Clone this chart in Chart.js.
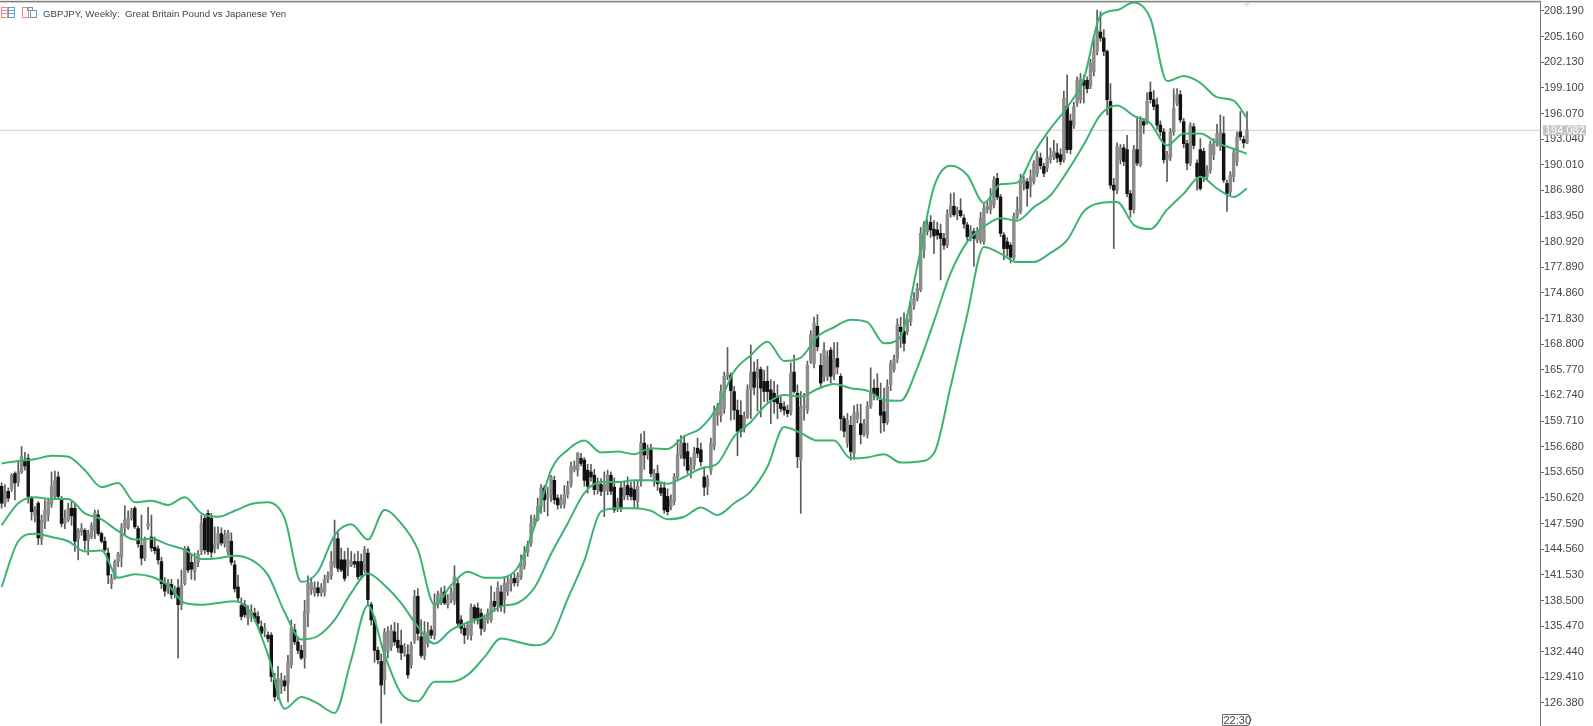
<!DOCTYPE html>
<html>
<head>
<meta charset="utf-8">
<title>GBPJPY Weekly</title>
<script src="https://cdn.jsdelivr.net/npm/chart.js@4/dist/chart.umd.min.js"></script>
<style>
  html, body { margin: 0; padding: 0; background: #fff; }
  canvas { display: block; }
</style>
</head>
<body>
<canvas id="chart" width="1593" height="726"></canvas>
<script>
var chartTitle = 'GBPJPY, Weekly:  Great Britain Pound vs Japanese Yen';
var lastPrice = 194.082;
var clockLabel = '22:30';

var priceTicks = [208.19, 205.16, 202.13, 199.10, 196.07, 193.04, 190.01, 186.98, 183.95, 180.92,
  177.89, 174.86, 171.83, 168.80, 165.77, 162.74, 159.71, 156.68, 153.65, 150.62,
  147.59, 144.56, 141.53, 138.50, 135.47, 132.44, 129.41, 126.38];

var opens = [
  152.0,150.0,151.4,151.7,153.5,152.5,153.7,155.0,155.3,150.6,
  148.6,150.0,145.7,147.8,148.6,149.9,150.8,153.1,150.4,147.6,
  148.0,149.4,149.4,145.8,146.6,146.8,145.6,146.0,146.8,148.6,
  146.4,145.5,144.1,140.5,141.1,143.1,143.6,147.1,147.1,148.2,
  149.4,147.0,145.0,143.5,147.3,146.0,144.8,144.6,143.1,140.5,
  140.0,140.4,139.2,140.0,138.0,140.5,144.6,143.0,141.9,143.0,
  144.3,148.2,148.8,148.2,144.6,145.1,146.4,145.2,144.2,145.5,
  142.7,140.1,137.9,138.0,136.4,136.6,137.0,136.6,135.4,134.9,
  134.4,134.4,129.1,127.3,128.3,129.0,128.7,130.9,135.0,133.6,
  132.6,131.7,137.0,139.8,139.4,140.0,139.4,139.5,141.0,141.4,
  142.7,145.8,143.3,143.3,142.5,142.7,143.1,143.1,143.1,142.1,
  144.1,138.0,136.2,132.6,131.3,129.1,132.5,133.0,134.8,133.8,
  133.2,132.3,132.1,130.9,133.8,139.0,134.2,131.9,133.4,135.0,
  134.4,138.0,138.2,139.5,138.0,138.6,138.4,140.5,136.2,135.2,
  134.4,134.4,137.7,137.6,137.0,135.0,136.2,136.2,138.4,138.0,
  139.5,138.6,139.6,140.5,141.1,140.6,141.3,142.6,144.2,145.3,
  147.6,148.0,149.6,151.8,150.6,151.0,152.7,150.6,149.8,149.9,
  151.0,152.2,154.0,153.9,155.3,155.1,153.9,153.7,153.3,151.6,
  152.2,151.4,151.6,153.3,151.9,149.4,151.8,150.8,152.1,151.8,
  151.6,150.2,152.6,157.1,155.7,156.3,152.7,153.5,151.8,151.8,
  150.8,149.6,150.2,153.1,155.7,157.1,156.1,153.9,154.5,156.5,
  156.3,153.1,152.0,153.9,156.7,160.4,160.4,161.2,165.0,165.1,
  163.2,161.0,160.4,158.8,160.2,163.4,165.5,164.8,165.8,164.4,
  164.4,163.4,163.0,162.6,161.8,161.4,161.0,160.8,165.5,163.0,
  155.1,161.3,161.0,166.8,166.5,170.9,166.3,165.0,165.0,168.1,
  165.2,167.1,165.0,160.0,157.1,159.2,155.9,160.0,159.4,158.3,
  158.1,161.4,163.6,163.6,162.2,160.8,159.6,164.0,165.8,167.1,
  170.8,170.3,170.3,171.5,173.4,174.2,175.2,179.9,182.1,183.2,
  182.4,182.3,181.9,181.3,180.5,184.1,185.1,184.3,184.6,183.7,
  182.9,181.5,182.1,181.1,181.0,180.9,184.7,184.7,185.3,188.4,
  186.2,181.7,180.9,180.5,179.0,183.9,184.5,187.8,188.0,187.4,
  188.0,189.0,190.8,189.8,189.6,190.6,191.0,191.4,191.2,190.6,
  196.9,195.2,194.7,197.3,197.7,200.0,200.0,199.3,201.0,203.4,
  205.7,205.0,203.4,197.5,187.6,187.0,190.6,192.0,191.8,186.6,
  184.7,191.8,190.0,195.1,195.1,198.6,197.7,197.1,194.7,193.9,
  190.6,190.9,193.9,197.3,198.3,195.1,192.5,190.2,194.5,190.2,
  191.8,191.6,188.6,189.4,191.2,192.6,192.1,193.7,187.8,186.8,
  188.6,190.4,193.9,193.0,192.6];
var closes = [
  150.0,151.4,150.6,153.3,152.4,153.7,155.5,154.4,150.8,149.0,
  149.3,145.9,148.0,149.2,150.2,152.0,152.7,150.8,147.6,148.2,
  149.4,148.5,145.5,146.8,147.0,145.6,146.4,147.4,148.8,146.4,
  145.5,144.5,141.5,141.1,143.1,144.0,147.1,148.0,148.2,149.1,
  147.2,145.2,143.5,145.7,147.6,144.7,144.4,143.3,140.5,139.6,
  140.6,139.2,139.8,138.0,140.3,144.6,142.1,142.2,143.0,144.0,
  147.6,144.5,144.3,144.2,145.2,146.4,145.3,146.2,146.5,143.0,
  139.9,138.8,136.6,136.8,137.2,137.2,136.4,135.8,134.6,135.2,
  134.0,129.5,127.1,129.3,129.1,128.4,131.2,135.2,133.6,132.6,
  131.7,137.2,140.5,140.6,140.0,139.4,140.0,141.0,141.5,143.1,
  145.8,142.3,142.1,141.1,143.3,143.1,142.8,141.3,141.5,144.5,
  138.6,136.2,132.6,131.5,128.5,134.8,134.8,135.0,133.6,132.9,
  132.3,133.0,129.7,133.2,139.0,134.6,132.0,134.6,134.8,134.4,
  138.2,139.2,139.4,138.2,138.6,139.5,141.3,135.8,135.2,134.4,
  135.6,137.7,136.4,136.2,135.2,136.4,137.0,138.2,137.8,140.0,
  137.8,140.5,140.6,141.1,140.6,141.4,142.9,144.0,145.1,147.6,
  148.2,149.6,151.8,150.4,151.0,153.1,150.4,149.8,150.4,151.0,
  152.0,154.4,154.4,155.9,154.7,152.7,152.0,153.1,151.6,152.4,
  151.4,152.2,153.3,151.4,149.2,150.2,149.4,151.9,151.0,150.8,
  150.4,152.0,157.1,155.7,156.3,153.5,153.5,152.3,151.2,149.2,
  149.0,150.4,153.1,155.7,157.1,155.3,153.9,154.5,155.9,155.9,
  154.9,151.9,152.9,157.1,160.8,161.4,163.2,165.0,165.4,163.3,
  161.0,158.5,158.5,160.2,163.4,165.5,163.7,166.0,163.6,163.2,
  163.2,162.2,162.0,161.8,161.2,161.0,160.6,165.3,163.2,155.5,
  161.4,161.5,166.3,169.9,171.3,168.5,164.2,168.1,167.3,165.0,
  167.0,166.1,160.0,158.5,159.8,156.1,160.6,160.8,158.1,159.4,
  161.4,163.0,162.9,162.6,160.4,159.5,163.8,166.5,167.0,171.1,
  170.3,168.9,171.7,173.2,174.2,175.4,181.9,182.9,182.9,182.3,
  181.6,181.7,181.3,180.5,184.1,185.1,184.1,184.6,184.0,183.0,
  181.5,182.3,181.3,182.1,183.7,184.9,185.1,185.8,188.2,186.2,
  181.9,180.1,180.1,179.1,183.9,184.7,188.2,188.2,187.2,188.6,
  190.2,191.0,189.9,189.0,190.8,191.1,191.6,190.8,190.4,197.9,
  191.8,191.8,196.9,200.0,200.2,199.4,199.0,202.0,203.4,205.9,
  205.0,203.4,197.7,187.6,187.0,192.2,192.0,190.4,186.6,184.7,
  191.8,190.2,195.3,194.7,197.5,197.7,196.9,194.7,193.9,190.6,
  191.2,193.9,196.7,198.3,195.3,192.5,190.2,194.7,192.3,188.6,
  187.2,188.6,189.4,192.4,192.5,193.7,193.9,188.2,186.6,188.8,
  191.4,193.3,193.3,192.6,194.1];
var highs = [
  152.4,152.2,151.8,153.5,153.7,154.9,156.7,156.0,155.8,150.8,
  149.6,150.2,148.6,150.4,150.6,153.7,153.8,153.7,150.8,149.2,
  150.0,150.2,150.0,147.0,147.6,147.0,146.8,147.7,149.2,149.2,
  146.6,146.0,144.7,141.6,143.3,144.2,147.6,149.7,149.1,149.4,
  149.6,147.3,148.6,146.0,149.5,148.6,146.0,145.0,143.6,141.2,
  141.0,141.0,140.2,141.0,142.1,144.9,144.9,144.0,144.1,144.4,
  148.6,148.6,149.2,148.8,147.2,147.2,147.1,146.8,146.8,146.5,
  143.2,141.5,138.8,138.5,137.9,138.0,137.6,137.2,136.1,135.8,
  134.8,134.7,129.9,130.7,129.9,129.6,132.0,136.2,135.7,134.2,
  133.2,138.5,141.4,141.2,140.7,140.7,140.5,141.5,141.9,144.3,
  148.0,146.8,144.7,144.3,144.7,144.3,144.0,144.3,144.0,144.9,
  144.6,138.3,136.6,133.0,132.2,135.2,135.4,135.6,135.9,135.8,
  135.0,133.4,133.3,133.6,139.7,139.9,136.2,136.0,135.9,135.5,
  139.3,139.6,140.0,140.2,139.2,140.0,142.6,141.2,136.7,135.6,
  136.0,138.1,138.0,138.2,137.5,136.8,137.5,140.2,139.5,140.7,
  140.3,141.2,141.4,141.5,141.7,141.8,143.9,144.9,145.5,148.6,
  148.6,150.6,152.2,152.1,151.9,153.3,153.2,151.0,151.0,152.1,
  152.6,154.9,155.0,156.0,155.9,155.4,154.6,154.6,154.0,153.0,
  152.9,153.7,153.9,153.7,153.0,150.6,152.5,152.6,153.1,152.5,
  152.7,152.6,158.2,158.5,156.9,157.0,154.0,154.5,152.4,152.5,
  151.7,151.0,153.5,157.5,158.0,158.0,157.1,155.4,156.6,157.7,
  157.1,154.3,153.3,157.7,161.5,161.8,164.0,165.5,168.4,165.4,
  163.8,162.2,162.1,160.8,164.0,168.7,166.7,167.0,166.1,165.7,
  166.2,164.6,164.4,164.0,162.6,162.0,161.6,166.6,167.5,164.0,
  163.2,163.0,166.8,170.4,172.0,172.3,167.7,169.0,168.0,168.4,
  169.0,169.0,165.3,160.3,160.6,160.3,161.5,161.7,161.7,159.9,
  162.0,166.0,164.6,165.3,164.2,163.6,164.6,166.9,167.5,171.8,
  172.0,172.5,172.3,173.9,174.9,176.0,182.6,183.3,183.5,184.0,
  183.4,183.2,183.0,181.9,184.7,186.6,186.7,185.0,186.0,184.1,
  183.2,182.8,182.5,182.6,184.4,185.4,185.6,187.2,188.6,189.0,
  186.5,182.0,181.4,180.8,184.3,186.2,188.9,188.6,188.4,189.4,
  190.5,191.6,191.4,190.2,193.3,192.0,192.9,192.5,191.9,198.7,
  200.6,196.0,197.4,200.4,200.8,200.6,200.4,202.5,205.0,208.3,
  208.1,206.0,203.6,199.6,188.4,192.6,192.4,192.4,193.5,187.0,
  192.3,195.7,195.7,195.5,198.5,199.8,198.8,197.9,195.2,194.3,
  191.6,194.3,199.0,199.0,198.8,195.5,192.9,195.0,194.9,190.6,
  193.1,192.0,189.9,192.8,193.1,194.8,195.9,195.7,188.2,189.2,
  191.9,193.9,196.3,193.4,196.3];
var lows = [
  149.4,149.6,150.2,151.4,150.4,152.0,153.5,153.9,150.0,148.0,
  147.8,145.1,145.1,147.0,147.9,149.5,150.6,150.6,147.2,147.0,
  147.8,147.4,144.3,143.3,146.2,144.5,143.9,145.8,145.8,146.2,
  145.3,144.3,140.5,139.9,141.0,142.5,142.5,146.2,146.9,148.0,
  147.0,144.8,142.7,143.2,146.9,144.3,144.0,142.8,139.9,139.0,
  139.3,138.7,138.8,131.7,137.4,140.3,141.8,141.0,140.9,142.5,
  143.9,144.0,143.9,143.6,144.1,144.6,145.0,144.8,143.9,142.7,
  139.5,138.4,136.2,136.5,135.6,136.0,136.0,135.3,134.4,134.2,
  133.6,128.9,126.6,126.8,127.5,127.8,126.5,130.5,133.3,132.2,
  131.5,130.5,135.4,139.2,139.0,139.0,139.0,139.0,140.6,141.0,
  142.4,141.9,141.9,140.8,141.4,142.5,142.4,141.0,141.0,141.8,
  138.0,135.6,131.2,131.0,124.0,127.4,131.7,132.6,133.2,132.4,
  131.5,131.9,129.3,130.5,133.4,133.8,131.7,131.5,133.0,134.0,
  133.9,137.6,138.0,138.0,137.6,138.2,138.0,135.4,134.6,133.4,
  133.9,133.8,135.8,135.7,134.4,134.8,135.8,135.9,137.2,137.2,
  137.2,137.0,139.1,139.6,140.2,140.2,141.0,142.2,143.7,144.9,
  147.2,147.9,148.8,149.0,148.5,150.2,149.9,149.3,149.4,149.4,
  150.6,151.9,153.7,153.2,154.4,152.0,151.2,152.6,151.0,151.1,
  150.9,148.4,151.0,151.0,148.9,149.0,149.0,150.4,150.4,150.4,
  149.4,149.4,152.0,154.0,155.2,153.1,152.0,151.5,150.9,148.8,
  148.6,149.2,149.8,152.8,155.3,154.4,153.5,153.0,154.0,155.4,
  154.4,150.9,151.0,153.4,156.3,159.2,159.6,160.6,164.6,159.8,
  159.9,155.6,157.8,158.4,160.0,160.0,162.8,160.9,160.2,162.0,
  162.0,159.4,160.6,160.0,160.8,160.4,160.2,160.4,163.0,154.2,
  148.8,159.8,160.6,166.5,166.0,168.0,163.6,164.4,164.5,164.2,
  164.6,165.3,158.6,157.8,156.6,155.1,155.2,159.5,157.0,157.9,
  157.7,161.2,162.2,162.2,158.3,158.5,159.3,163.3,165.5,166.6,
  168.4,168.0,169.9,171.0,172.9,173.9,175.0,179.0,181.7,181.4,
  179.5,181.2,176.4,180.0,180.2,183.8,183.9,183.5,183.8,182.5,
  181.0,181.0,178.0,180.8,180.7,180.6,184.3,184.2,184.9,185.9,
  181.5,178.8,179.2,178.4,178.8,183.6,184.2,187.0,185.1,186.2,
  187.7,188.6,189.5,188.6,189.2,190.2,190.6,190.3,190.0,190.3,
  191.4,191.3,194.3,196.9,197.3,197.3,198.5,199.0,200.5,203.0,
  204.6,202.9,195.9,187.2,180.1,186.6,190.1,189.9,186.2,183.8,
  184.3,189.9,189.8,193.7,194.8,197.3,196.5,194.2,193.4,190.2,
  188.0,190.5,193.5,197.0,195.0,192.0,189.4,189.9,191.9,187.0,
  187.0,188.0,188.2,189.0,190.6,192.2,191.7,187.9,184.5,186.4,
  188.0,189.9,192.9,192.0,192.5];

var bandBars = [0,5,10,15,20,25,30,35,40,45,50,55,60,65,70,75,80,85,90,95,
  100,105,110,115,120,125,130,135,140,145,150,155,160,165,170,175,180,185,190,195,
  200,205,210,215,220,225,230,235,240,245,250,255,260,265,270,275,280,285,290,295,
  300,305,310,315,320,325,330,335,340,345,350,355,360,365,370,374];
var bandUpper = [154.7,155.0,155.2,155.6,155.5,153.9,151.9,152.4,150.1,150.3,
  149.8,150.7,148.8,148.4,149.1,149.9,150.1,148.2,140.7,141.9,
  146.2,147.5,145.7,149.2,147.6,144.5,138.0,140.3,141.9,141.2,
  141.2,142.4,147.2,153.9,156.3,157.4,156.0,156.1,155.8,156.5,
  156.4,157.9,158.9,161.4,165.6,167.5,169.1,166.8,167.2,169.7,
  170.8,171.7,171.4,168.9,169.7,178.0,187.4,189.9,188.8,185.5,
  187.7,187.9,191.4,194.3,196.8,200.2,207.6,208.3,209.2,207.3,
  199.9,200.5,199.7,198.0,197.6,195.5];
var bandMiddle = [147.4,150.0,150.7,150.5,150.5,148.8,148.1,146.7,145.7,145.8,
  145.1,144.5,143.4,143.5,143.8,143.3,141.5,137.1,133.9,134.3,
  136.2,139.4,141.7,140.3,138.2,135.4,133.4,135.0,135.9,136.6,
  137.8,138.2,140.0,144.0,147.6,151.2,152.5,152.5,152.7,152.7,
  152.3,153.1,154.1,154.7,157.9,159.6,161.8,162.8,162.6,163.5,
  164.1,163.6,163.3,162.2,162.1,166.0,171.5,177.2,180.9,182.7,
  183.7,183.4,185.0,186.4,189.2,192.4,195.9,197.0,195.8,194.9,
  192.3,193.7,193.7,192.6,191.9,191.3];
var bandLower = [140.1,145.5,146.4,146.0,145.5,144.3,144.4,141.2,141.6,141.3,
  140.3,138.2,138.0,138.2,138.4,137.0,132.1,125.7,127.1,126.3,
  125.2,131.5,137.9,132.1,127.5,126.6,128.9,128.9,129.7,131.8,
  134.0,133.6,133.2,134.1,138.7,143.2,149.0,149.4,149.4,149.1,
  148.1,148.4,149.5,148.6,150.0,151.4,154.3,159.0,158.3,157.4,
  157.4,155.3,155.4,155.8,154.8,154.9,155.9,163.8,172.3,180.3,
  179.5,178.5,178.5,179.6,181.1,184.5,185.5,185.6,182.9,182.4,
  184.7,186.6,188.6,187.2,186.2,187.2];

var wickData = [], upData = [], downData = [];
opens.forEach(function(o, n) {
  wickData.push({x: n, y: [lows[n], highs[n]]});
  if (closes[n] >= o) {
    upData.push({x: n, y: [o, closes[n]]});
  } else {
    downData.push({x: n, y: [closes[n], o]});
  }
});

function bandLine(values) {
  return {
    type: 'line',
    data: values.map(function(v, k) { return {x: bandBars[k], y: v}; }),
    borderColor: '#3cb371',
    borderWidth: 2,
    pointRadius: 0,
    cubicInterpolationMode: 'monotone'
  };
}

var xMin = -0.48, xMax = 462;

// frame, header and the little tags that are not part of the series
var decorations = {
  id: 'decorations',
  afterDraw: function(chart) {
    var ctx = chart.ctx;
    var y = chart.scales.y;
    var tagY = y.getPixelForValue(lastPrice);
    ctx.save();

    ctx.fillStyle = '#e6e6e6';
    ctx.fillRect(0, 0, 1541, 1);
    ctx.fillStyle = '#808080';
    ctx.fillRect(0, 1, 1541, 1.4);

    ctx.fillStyle = '#e8e8e8';
    ctx.beginPath();
    ctx.moveTo(1243, 3);
    ctx.lineTo(1251, 3);
    ctx.lineTo(1247, 7);
    ctx.fill();

    // toolbar icons
    ctx.lineWidth = 1;
    ctx.strokeStyle = '#ee8a80';
    ctx.strokeRect(1.5, 7.5, 6, 10);
    ctx.strokeStyle = '#5aa0d8';
    ctx.strokeRect(8.5, 7.5, 6, 10);
    ctx.strokeStyle = '#ee8a80';
    ctx.beginPath();
    ctx.moveTo(2, 10.5); ctx.lineTo(7, 10.5);
    ctx.moveTo(2, 13.5); ctx.lineTo(7, 13.5);
    ctx.stroke();
    ctx.strokeStyle = '#5aa0d8';
    ctx.beginPath();
    ctx.moveTo(9, 10.5); ctx.lineTo(14, 10.5);
    ctx.moveTo(9, 13.5); ctx.lineTo(14, 13.5);
    ctx.stroke();
    ctx.strokeStyle = '#ee8a80';
    ctx.strokeRect(22.5, 7.5, 6, 10);
    ctx.strokeStyle = '#5aa0d8';
    ctx.strokeRect(30.5, 10.5, 6, 7);
    ctx.strokeStyle = '#909090';
    ctx.strokeRect(27.5, 7.5, 5, 3);

    ctx.fillStyle = '#444';
    ctx.font = '9.7px "Liberation Sans"';
    ctx.textBaseline = 'middle';
    ctx.textAlign = 'left';
    ctx.fillText(chartTitle, 43, 14);

    ctx.font = '11px "Liberation Sans"';
    ctx.fillStyle = '#c4c4c4';
    ctx.fillRect(1543, tagY - 5, 43, 10);
    ctx.fillStyle = '#fff';
    ctx.fillText(lastPrice.toFixed(3), 1545, tagY + 0.5);

    ctx.strokeStyle = '#666';
    ctx.fillStyle = '#fff';
    ctx.beginPath();
    ctx.moveTo(1222.5, 714.5);
    ctx.lineTo(1248.5, 714.5);
    ctx.lineTo(1251, 719.5);
    ctx.lineTo(1248.5, 725.5);
    ctx.lineTo(1222.5, 725.5);
    ctx.closePath();
    ctx.fill();
    ctx.stroke();
    ctx.fillStyle = '#444';
    ctx.fillText(clockLabel, 1223.5, 720.5);
    ctx.restore();
  }
};

new Chart(document.getElementById('chart').getContext('2d'), {
  data: {
    datasets: [
      bandLine(bandUpper),
      bandLine(bandMiddle),
      bandLine(bandLower),
      {type: 'bar', data: downData, backgroundColor: '#111111', barThickness: 2.8, grouped: false},
      {type: 'bar', data: upData, backgroundColor: '#8c8c8c', barThickness: 2.8, grouped: false},
      {type: 'bar', data: wickData, backgroundColor: '#5a5a5a', barThickness: 1, grouped: false},
      {
        type: 'line',
        data: [{x: xMin, y: lastPrice}, {x: xMax, y: lastPrice}],
        borderColor: '#cfcfcf',
        borderWidth: 1,
        pointRadius: 0
      }
    ]
  },
  options: {
    responsive: false,
    animation: false,
    events: [],
    layout: {autoPadding: false, padding: {top: 2}},
    plugins: {legend: {display: false}, tooltip: {enabled: false}, title: {display: false}},
    scales: {
      x: {type: 'linear', display: false, offset: false, min: xMin, max: xMax},
      y: {
        type: 'linear',
        position: 'right',
        min: 123.66,
        max: 209.25,
        afterFit: function(axis) {
          axis.width = 53;
          axis.paddingTop = 0;
          axis.paddingBottom = 0;
        },
        afterBuildTicks: function(axis) {
          axis.ticks = priceTicks.map(function(v) { return {value: v}; });
        },
        border: {color: '#707070', width: 1},
        grid: {drawOnChartArea: false, tickLength: 4, tickColor: '#666', tickWidth: 1},
        ticks: {
          autoSkip: false,
          padding: 0,
          color: '#444',
          font: {family: '"Liberation Sans"', size: 11},
          callback: function(v) { return v.toFixed(3); }
        }
      }
    }
  },
  plugins: [decorations]
});
</script>
</body>
</html>
